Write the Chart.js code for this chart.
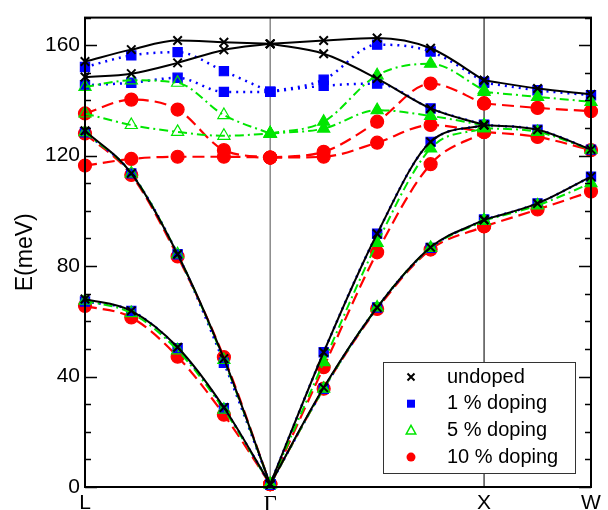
<!DOCTYPE html>
<html>
<head>
<meta charset="utf-8">
<script src="https://cdn.jsdelivr.net/npm/chart.js@4.4.0/dist/chart.umd.min.js"></script>
<style>
  html, body { margin: 0; padding: 0; background: #fff; }
  canvas { display: block; }
</style>
</head>
<body>
<canvas id="wykres" width="608" height="510"></canvas>
<script>
// positions of the q points along the path L - Gamma - X - W
const qLG = [0, 0.2165, 0.433, 0.6495, 0.866];
const qGX = [0.866, 1.116, 1.366, 1.616, 1.866];
const qXW = [1.866, 2.116, 2.366];

const pathTicks = [0, 0.866, 1.866, 2.366];
const pathLabels = ["L", "\u0393", "X", "W"];
const energyTicks = [0, 40, 80, 120, 160];

const seriesNames = ["undoped", "1 % doping", "5 % doping", "10 % doping"];

// phonon branches (meV), one row per branch
const undopedLG = [
  [154.1, 158.4, 161.7, 161.1, 160.5],
  [148.5, 149.7, 153.6, 158.3, 160.5],
  [129, 113.6, 84.3, 46.5, 1],
  [68.1, 63.8, 50.6, 28.8, 1]
];
const undopedGX = [
  [160.5, 161.7, 162.6, 158.9, 147.3],
  [160.5, 156.9, 147.9, 137.1, 131.1],
  [1, 48.8, 91.7, 125, 131.1],
  [1, 36, 65, 86.8, 96.8]
];
const undopedXW = [
  [147.3, 144.3, 142.2],
  [131.1, 129.4, 122.2],
  [96.8, 102.7, 112.4]
];

const dop1LG = [
  [152.1, 156.3, 157.5, 150.6, 143.1],
  [145.5, 146.4, 148.2, 143.1, 143.1],
  [128.5, 113.6, 84.3, 45, 1],
  [67.2, 63.8, 50.3, 28.5, 1]
];
const dop1GX = [
  [143.1, 147.5, 160.2, 157.7, 146.7],
  [143.1, 145.3, 146.1, 137.1, 131.1],
  [1, 48.8, 91.7, 125, 131.1],
  [1, 35.6, 65, 86.6, 96.8]
];
const dop1XW = [
  [146.4, 143.7, 141.9],
  [131.1, 129.4, 122.2],
  [96.8, 102.7, 112.4]
];

const dop5LG = [
  [144.9, 147.3, 146.4, 134.7, 128],
  [135.3, 131.1, 128.6, 127.2, 128],
  [128.5, 113.6, 84.3, 46, 1],
  [67.5, 63, 49.5, 28, 1]
];
const dop5GX = [
  [128, 132.3, 149.1, 153.3, 143.7],
  [128, 129.8, 136.5, 134.4, 131],
  [1, 45.2, 88.4, 122.6, 130],
  [1, 35.6, 65, 86.6, 96.5]
];
const dop5XW = [
  [143.1, 141.3, 139.5],
  [130, 128.6, 122.2],
  [96.5, 102, 110]
];

const dop10LG = [
  [135.3, 140.3, 136.7, 122, 119.3],
  [116.4, 118.8, 119.6, 119.6, 119.3],
  [128, 113, 83.5, 47, 1],
  [65.6, 61.4, 47.2, 26.2, 1]
];
const dop10GX = [
  [119.3, 121.4, 132.3, 146.1, 138.9],
  [119.3, 119.6, 124.7, 131.1, 128.6],
  [1, 43.4, 85, 116.9, 128.6],
  [1, 35.6, 64.5, 86, 94.4]
];
const dop10XW = [
  [138.9, 137.3, 136.1],
  [128.6, 126.8, 122],
  [94.4, 100.5, 107]
];

// styles, drawn in this order: first one ends on top
const styles = [
  { color: "#000000", dash: [], width: 2, point: "crossRot", r: 6, open: false, legendIdx: 0,
    segs: [undopedLG, undopedGX, undopedXW] },
  { color: "#00e600", dash: [9, 4, 2, 4], width: 2, point: "triangle", r: 7, open: true, legendIdx: 2,
    segs: [dop5LG, dop5GX, dop5XW] },
  { color: "#0000ff", dash: [2, 5], width: 2.5, point: "rect", r: 6.5, open: false, legendIdx: 1,
    segs: [dop1LG, dop1GX, dop1XW] },
  { color: "#ff0000", dash: [12, 6], width: 2.2, point: "circle", r: 6.5, open: false, legendIdx: 3,
    segs: [dop10LG, dop10GX, dop10XW] }
];

const qSegs = [qLG, qGX, qXW];
const datasets = [];
styles.forEach((s) => {
  s.segs.forEach((branches, si) => {
    const q = qSegs[si];
    branches.forEach((b) => {
      let bg = s.color;
      if (s.open && si === 0) {
        // open triangles on L-Gamma, except at Gamma
        bg = q.map((x, i) => (i === q.length - 1 ? s.color : "rgba(0,0,0,0)"));
      }
      datasets.push({
        data: q.map((x, i) => ({ x: x, y: b[i] })),
        borderColor: s.color,
        borderWidth: s.width,
        borderDash: s.dash,
        pointStyle: s.point,
        pointRadius: s.r,
        pointBorderColor: s.color,
        pointBackgroundColor: bg,
        pointBorderWidth: s.point === "crossRot" ? 2 : 1.2,
        cubicInterpolationMode: "monotone",
        fill: false,
        clip: false
      });
    });
  });
});

function rysujZnacznik(ctx, type, color, x, y, r, open) {
  ctx.save();
  ctx.strokeStyle = color;
  ctx.fillStyle = color;
  ctx.lineWidth = 1.5;
  ctx.setLineDash([]);
  ctx.beginPath();
  if (type === "crossRot") {
    ctx.lineWidth = 2;
    ctx.moveTo(x - r, y - r); ctx.lineTo(x + r, y + r);
    ctx.moveTo(x + r, y - r); ctx.lineTo(x - r, y + r);
    ctx.stroke();
  } else if (type === "rect") {
    ctx.fillRect(x - r, y - r, 2 * r, 2 * r);
  } else if (type === "triangle") {
    ctx.moveTo(x, y - r);
    ctx.lineTo(x + r * 0.95, y + r * 0.7);
    ctx.lineTo(x - r * 0.95, y + r * 0.7);
    ctx.closePath();
    if (open) ctx.stroke(); else ctx.fill();
  } else {
    ctx.arc(x, y, r, 0, Math.PI * 2);
    ctx.fill();
  }
  ctx.restore();
}

// frame, inner ticks and the vertical Gamma / X lines
const ramka = {
  id: "ramka",
  beforeDatasetsDraw(chart) {
    const { ctx, chartArea: a, scales } = chart;
    ctx.save();
    const xg = scales.x.getPixelForValue(pathTicks[1]);
    const xx = scales.x.getPixelForValue(pathTicks[2]);
    ctx.lineWidth = 1.5;
    ctx.strokeStyle = "#8a8a8a";
    ctx.beginPath(); ctx.moveTo(xg, a.top); ctx.lineTo(xg, a.bottom); ctx.stroke();
    ctx.lineWidth = 1.2;
    ctx.strokeStyle = "#222";
    ctx.beginPath(); ctx.moveTo(xx, a.top); ctx.lineTo(xx, a.bottom); ctx.stroke();
    ctx.restore();
  },
  afterDatasetsDraw(chart) {
    const { ctx, chartArea: a, scales } = chart;
    ctx.save();
    ctx.strokeStyle = "#000";
    ctx.lineWidth = 1.5;
    for (let v = 0; v <= 170; v += 10) {
      const y = Math.round(scales.y.getPixelForValue(v)) + 0.5;
      const len = v % 40 === 0 ? 12 : 6;
      ctx.beginPath();
      ctx.moveTo(a.left, y); ctx.lineTo(a.left + len, y);
      ctx.moveTo(a.right, y); ctx.lineTo(a.right - len, y);
      ctx.stroke();
    }
    ctx.lineWidth = 2;
    ctx.strokeRect(a.left, a.top, a.right - a.left, a.bottom - a.top);

    // legend box
    const w = 192, h = 111;
    const bx = a.right - 16 - w, by = a.bottom - 14 - h;
    ctx.fillStyle = "#fff";
    ctx.fillRect(bx, by, w, h);
    ctx.lineWidth = 1;
    ctx.strokeStyle = "#333";
    ctx.strokeRect(bx + 0.5, by + 0.5, w, h);
    ctx.font = "20px 'Liberation Sans', Arial, sans-serif";
    ctx.textBaseline = "middle";
    ctx.fillStyle = "#000";
    const order = styles.slice().sort((p, q) => p.legendIdx - q.legendIdx);
    order.forEach((s, i) => {
      const ry = by + 15 + i * 26.7;
      const mr = s.point === "crossRot" ? 3.5 : s.point === "circle" ? 4.5 : s.point === "triangle" ? 5 : 4;
      rysujZnacznik(ctx, s.point, s.color, bx + 28, ry, mr, s.open);
      ctx.fillStyle = "#000";
      ctx.fillText(seriesNames[i], bx + 64, ry);
    });
    ctx.restore();
  }
};

new Chart(document.getElementById("wykres"), {
  type: "line",
  data: { datasets: datasets },
  options: {
    responsive: false,
    animation: false,
    events: [],
    layout: { padding: { left: 0, top: 14, right: 17, bottom: 0 } },
    plugins: { legend: { display: false }, tooltip: { enabled: false } },
    scales: {
      x: {
        type: "linear",
        min: 0,
        max: 2.366,
        afterBuildTicks: (s) => { s.ticks = pathTicks.map((v) => ({ value: v })); },
        afterFit: (s) => { s.height = 23; },
        grid: { display: false, drawTicks: false },
        border: { display: false },
        ticks: {
          autoSkip: false,
          maxRotation: 0,
          padding: 4,
          color: "#000",
          callback: (v, i) => pathLabels[i],
          font: (c) => c.index === 1
            ? { family: "'Liberation Serif', 'DejaVu Serif', serif", size: 23 }
            : { family: "'Liberation Sans', Arial, sans-serif", size: 21 }
        }
      },
      y: {
        min: 0,
        max: 170,
        afterBuildTicks: (s) => { s.ticks = energyTicks.map((v) => ({ value: v })); },
        afterFit: (s) => { s.width = 85; },
        grid: { display: false, drawTicks: false },
        border: { display: false },
        ticks: {
          padding: 5,
          color: "#000",
          font: { family: "'Liberation Sans', Arial, sans-serif", size: 21 }
        },
        title: {
          display: true,
          text: "E(meV)",
          color: "#000",
          font: { family: "'Liberation Sans', Arial, sans-serif", size: 23 },
          padding: { top: 12, bottom: 0 }
        }
      }
    }
  },
  plugins: [ramka]
});
</script>
</body>
</html>
